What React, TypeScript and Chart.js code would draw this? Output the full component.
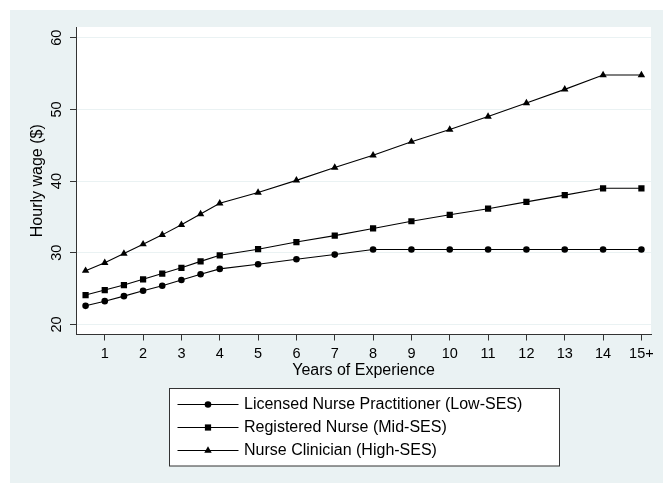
import React, { useEffect, useRef } from "react";
import { Chart, registerables } from "chart.js";

Chart.register(...registerables);

const years = [0.5, 1, 1.5, 2, 2.5, 3, 3.5, 4, 5, 6, 7, 8, 9, 10, 11, 12, 13, 14, 15];
const lowSES = [22.6, 23.25, 23.95, 24.7, 25.4, 26.2, 27.0, 27.75, 28.4, 29.1, 29.75, 30.45, 30.45, 30.45, 30.45, 30.45, 30.45, 30.45, 30.45];
const midSES = [24.1, 24.8, 25.5, 26.3, 27.1, 27.9, 28.8, 29.65, 30.5, 31.5, 32.4, 33.4, 34.4, 35.3, 36.15, 37.1, 38.05, 39.0, 39.0];
const highSES = [27.5, 28.6, 29.9, 31.2, 32.5, 33.9, 35.4, 36.9, 38.4, 40.1, 41.9, 43.6, 45.5, 47.2, 49.0, 50.9, 52.8, 54.8, 54.8];
const seriesLabels = [
  "Licensed Nurse Practitioner (Low-SES)",
  "Registered Nurse (Mid-SES)",
  "Nurse Clinician (High-SES)",
];
const xTickValues = [1, 2, 3, 4, 5, 6, 7, 8, 9, 10, 11, 12, 13, 14, 15];
const xTickLabels = ["1", "2", "3", "4", "5", "6", "7", "8", "9", "10", "11", "12", "13", "14", "15+"];
const yTickValues = [20, 30, 40, 50, 60];

const FONT = "'Liberation Sans', Arial, Helvetica, sans-serif";
const BG = "#EAF2F3";
const AXIS = "#333333";

function drawMarker(ctx: CanvasRenderingContext2D, style: string, x: number, y: number, r: number) {
  ctx.beginPath();
  if (style === "circle") {
    ctx.arc(x, y, r, 0, Math.PI * 2);
  } else if (style === "rect") {
    const s = r * Math.SQRT1_2;
    ctx.rect(x - s, y - s, 2 * s, 2 * s);
  } else {
    ctx.moveTo(x, y - r);
    ctx.lineTo(x + r * Math.sin((2 * Math.PI) / 3), y - r * Math.cos((2 * Math.PI) / 3));
    ctx.lineTo(x + r * Math.sin((4 * Math.PI) / 3), y - r * Math.cos((4 * Math.PI) / 3));
    ctx.closePath();
  }
  ctx.fill();
}

const bgPlugin = {
  id: "stataBg",
  beforeDraw(chart: any) {
    const { ctx, width, height, chartArea } = chart;
    ctx.save();
    ctx.fillStyle = "#ffffff";
    ctx.fillRect(0, 0, width, height);
    ctx.fillStyle = BG;
    ctx.fillRect(10, 10, width - 10, height - 10);
    ctx.fillStyle = "#ffffff";
    ctx.fillRect(chartArea.left, chartArea.top, chartArea.right - chartArea.left, chartArea.bottom - chartArea.top);
    ctx.restore();
  },
};

const legendPlugin = {
  id: "stataLegend",
  afterDraw(chart: any) {
    const { ctx, chartArea } = chart;
    const boxW = 390;
    const boxH = 77.5;
    const cx = (chartArea.left + chartArea.right) / 2;
    const left = Math.round(cx - boxW / 2) + 0.5;
    const top = 388.5;
    ctx.save();
    ctx.fillStyle = "#ffffff";
    ctx.fillRect(left, top, boxW, boxH);
    ctx.strokeStyle = AXIS;
    ctx.lineWidth = 1;
    ctx.strokeRect(left, top, boxW, boxH);
    ctx.font = `16px ${FONT}`;
    ctx.textBaseline = "middle";
    ctx.textAlign = "left";
    chart.data.datasets.forEach((ds: any, i: number) => {
      const y = top + 16 + i * 23;
      ctx.strokeStyle = "#000";
      ctx.lineWidth = 1;
      ctx.beginPath();
      ctx.moveTo(left + 8, y);
      ctx.lineTo(left + 69, y);
      ctx.stroke();
      ctx.fillStyle = "#000";
      drawMarker(ctx, ds.pointStyle, left + 38.5, y, ds.pointRadius);
      ctx.fillText(ds.label, left + 74.5, y + 0.5);
    });
    ctx.restore();
  },
};

export default function App() {
  const ref = useRef<HTMLCanvasElement | null>(null);

  useEffect(() => {
    if (!ref.current) return;
    const mk = (vals: number[]) => years.map((x, i) => ({ x, y: vals[i] }));
    const common = {
      borderColor: "#000",
      borderWidth: 1.1,
      pointBackgroundColor: "#000",
      pointBorderWidth: 0,
      pointHoverRadius: 0,
      tension: 0,
      fill: false,
    };
    const chart = new Chart(ref.current, {
      type: "line",
      data: {
        datasets: [
          { ...common, label: seriesLabels[0], data: mk(lowSES), pointStyle: "circle", pointRadius: 3.3 },
          { ...common, label: seriesLabels[1], data: mk(midSES), pointStyle: "rect", pointRadius: 4.4 },
          { ...common, label: seriesLabels[2], data: mk(highSES), pointStyle: "triangle", pointRadius: 4.3 },
        ],
      },
      options: {
        animation: false,
        responsive: false,
        maintainAspectRatio: false,
        layout: { padding: { left: 10, right: 12, top: 27, bottom: 103 } },
        plugins: { legend: { display: false }, tooltip: { enabled: false } },
        events: [],
        scales: {
          x: {
            type: "linear",
            min: 0.25,
            max: 15.25,
            afterBuildTicks: (s: any) => {
              s.ticks = xTickValues.map((v) => ({ value: v }));
            },
            afterFit: (s: any) => {
              s.height = 45.5;
            },
            ticks: {
              autoSkip: false,
              maxRotation: 0,
              minRotation: 0,
              padding: 5,
              color: "#000",
              font: { family: FONT, size: 14.5 },
              callback: (v: any) => {
                const i = xTickValues.indexOf(Number(v));
                return i >= 0 ? xTickLabels[i] : "";
              },
            },
            grid: { drawOnChartArea: false, tickLength: 6, tickColor: AXIS, tickWidth: 1 },
            border: { display: true, color: AXIS, width: 1 },
            title: { display: true, text: "Years of Experience", color: "#000", font: { family: FONT, size: 16 }, padding: 0 },
          },
          y: {
            type: "linear",
            min: 18.6,
            max: 61.5,
            afterBuildTicks: (s: any) => {
              s.ticks = yTickValues.map((v) => ({ value: v }));
            },
            afterFit: (s: any) => {
              s.width = 66;
            },
            ticks: {
              padding: 5,
              color: "#000",
              font: { family: FONT, size: 14.5 },
              minRotation: 90,
              maxRotation: 90,
              crossAlign: "center",
            },
            grid: { color: BG, lineWidth: 1, tickLength: 6, tickColor: AXIS, tickWidth: 1 },
            border: { display: true, color: AXIS, width: 1 },
            title: {
              display: true,
              text: "Hourly wage ($)",
              color: "#000",
              font: { family: FONT, size: 16 },
              padding: { top: 18, bottom: 0 },
            },
          },
        },
      },
      plugins: [bgPlugin, legendPlugin],
    } as any);
    return () => chart.destroy();
  }, []);

  return (
    <div style={{ position: "fixed", left: 0, top: 0, right: 0, bottom: 0, background: "#ffffff" }}>
      <div style={{ position: "absolute", left: 10, top: 10, right: 0, bottom: 0, background: BG }} />
      <canvas
        ref={ref}
        width={663}
        height={483}
        style={{ position: "absolute", left: 0, top: 0, width: 663, height: 483, display: "block" }}
      />
    </div>
  );
}
